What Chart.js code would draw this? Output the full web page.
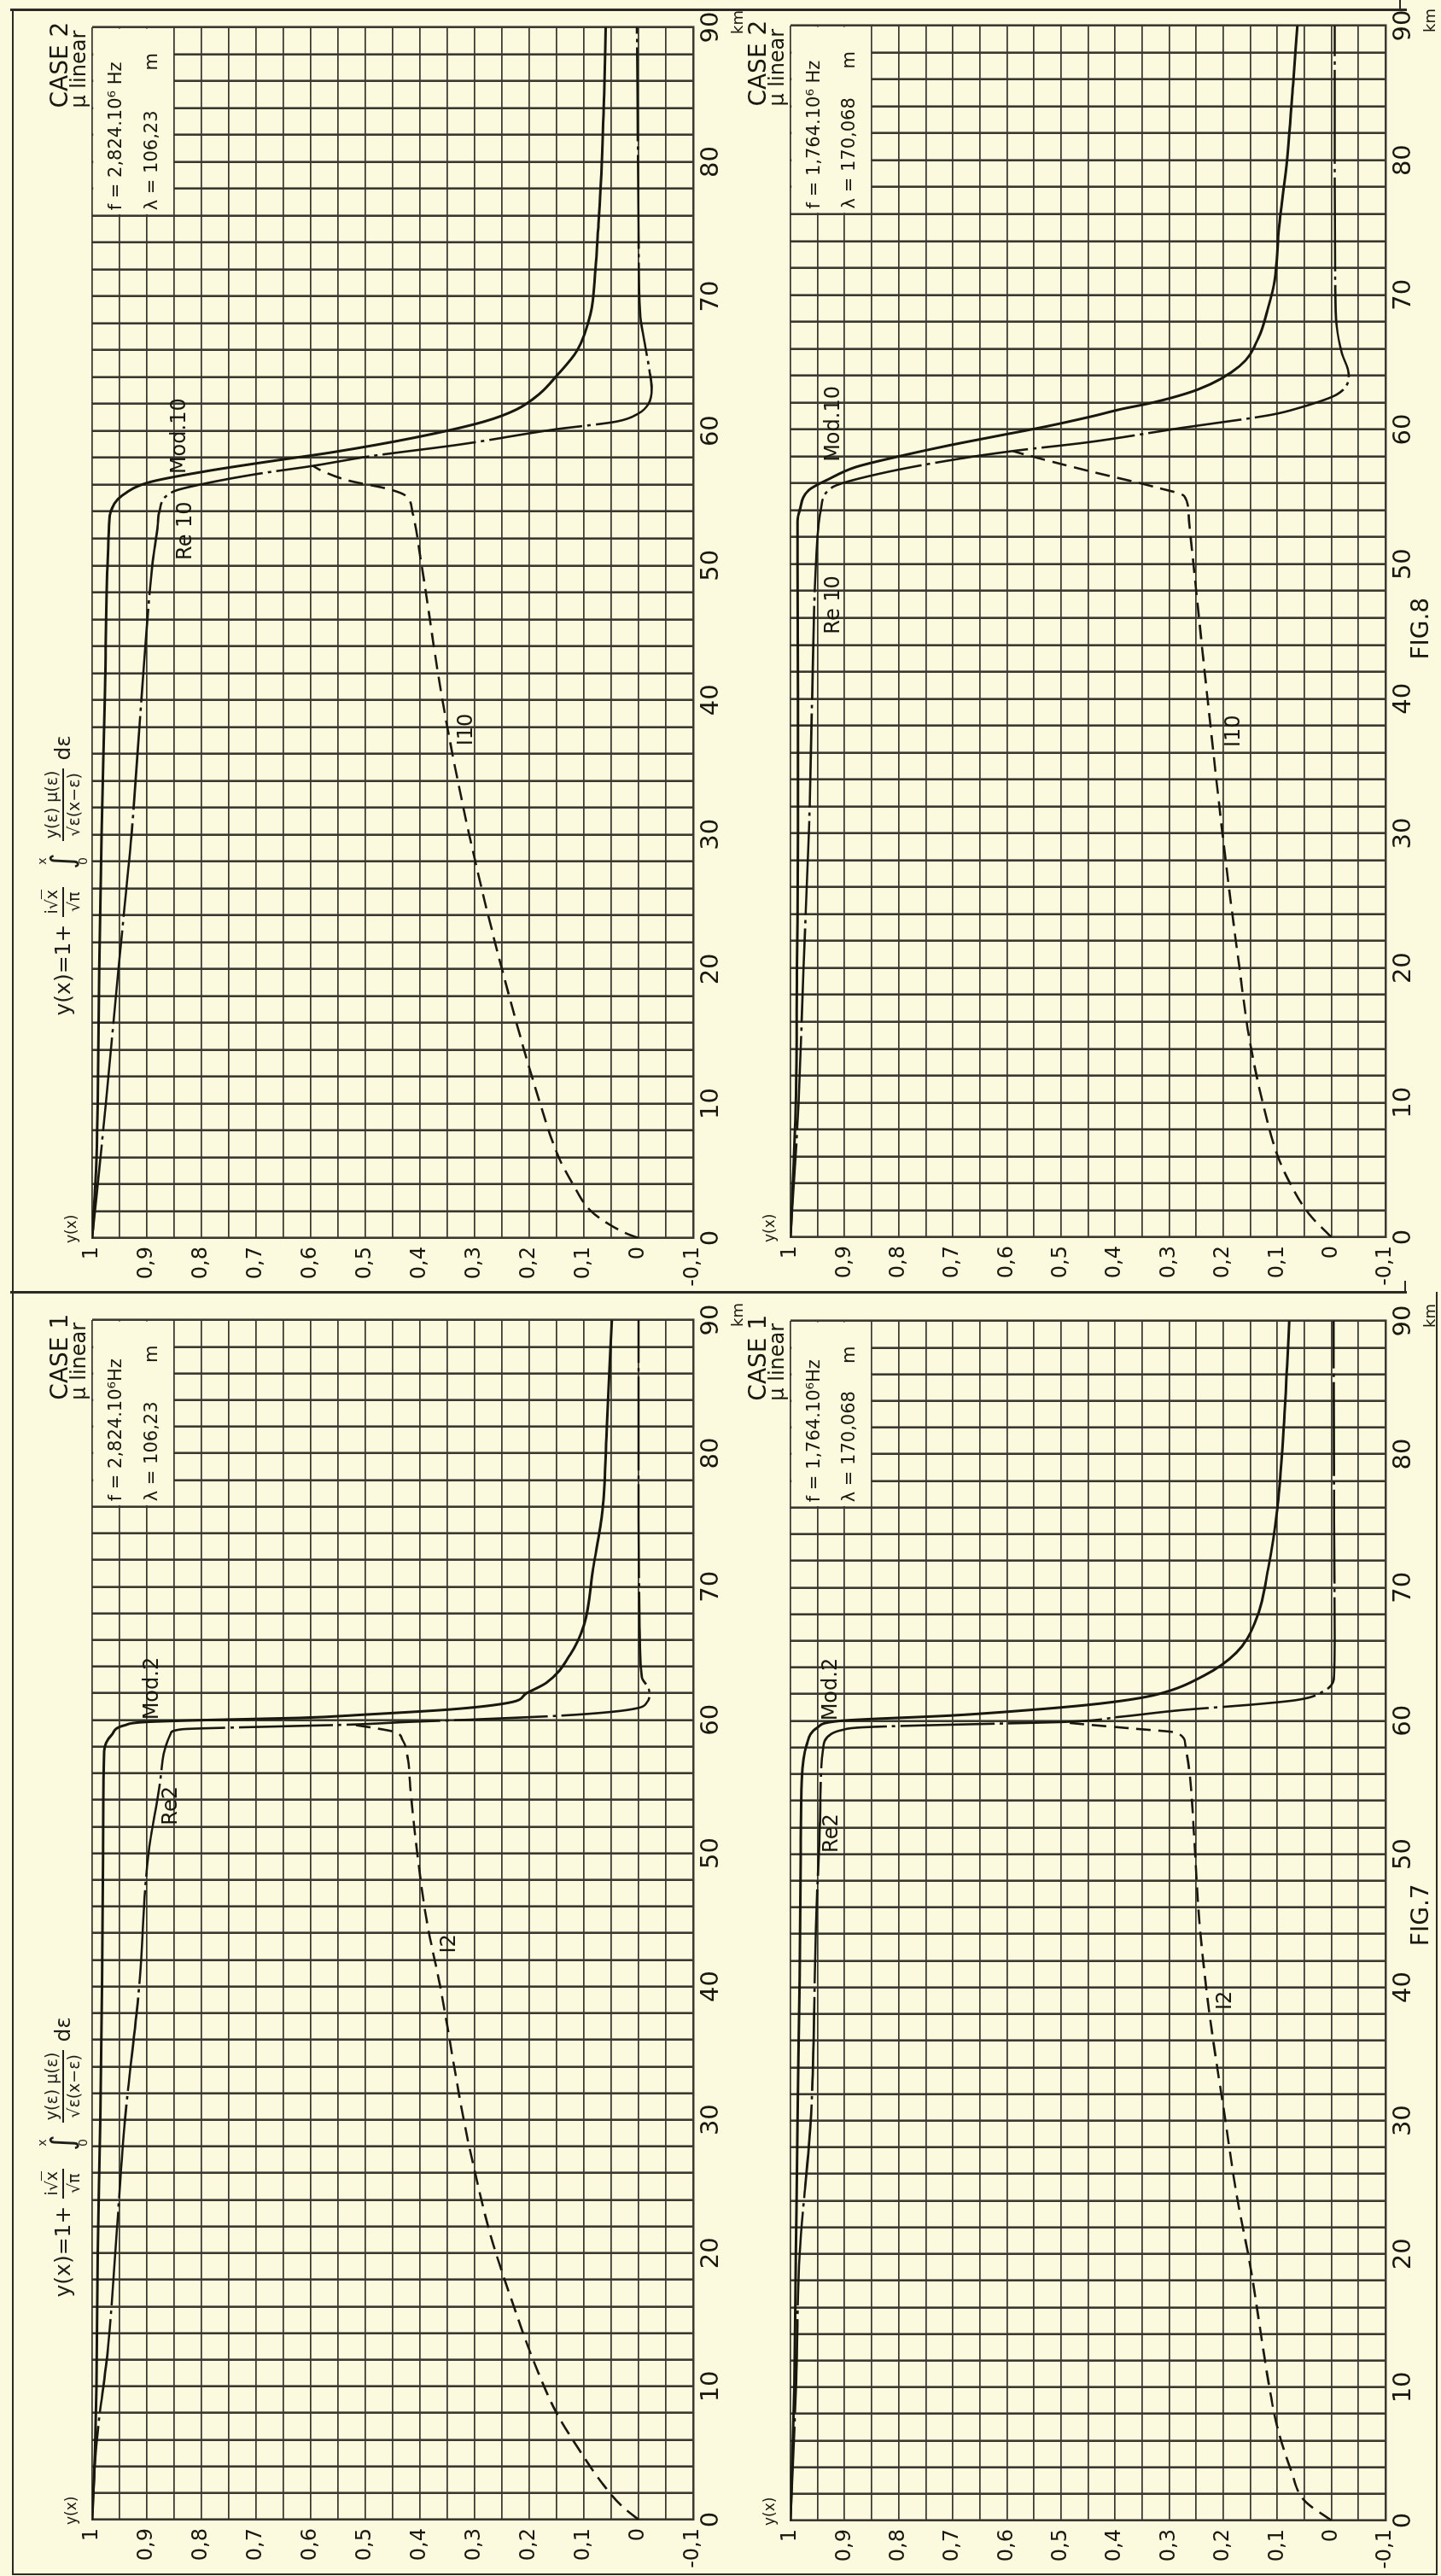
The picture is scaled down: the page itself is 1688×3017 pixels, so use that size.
<!DOCTYPE html>
<html lang="fr">
<head>
<meta charset="utf-8">
<title>y(x) — CASE 1 / CASE 2, FIG.7 – FIG.8</title>
<script src="https://cdn.jsdelivr.net/npm/chart.js@4.4.1/dist/chart.umd.min.js"></script>
<style>
  html, body { margin: 0; padding: 0; }
  body {
    width: 1688px; height: 3017px; overflow: hidden; position: relative;
    background: #fbf9de; color: #1e1e1a;
    font-family: "DejaVu Sans", "Liberation Sans", sans-serif;
  }
  /* the plates are laid out lying down, then the whole sheet is turned a quarter left */
  #page {
    position: absolute; left: 0; top: 0; width: 3017px; height: 1688px;
    transform-origin: 0 0; transform: translate(0px, 3017px) rotate(-90deg);
  }
  .rule { position: absolute; background: #2a2923; }
  .panel { position: absolute; }
  .formula { position: absolute; height: 54px; display: flex; align-items: center; white-space: nowrap; font-size: 25px; }
  .frac { display: inline-flex; flex-direction: column; align-items: center; margin: 0 9px; font-size: 19px; line-height: 1.2; }
  .frac > span:first-child { border-bottom: 2px solid #1e1e1a; padding: 0 3px 1px; }
  .int { display: inline-flex; flex-direction: column; align-items: center; margin: 0 5px 0 12px; font-size: 14px; line-height: 1; }
  .int b { font-weight: normal; font-size: 36px; line-height: 0.95; }
  .ov { text-decoration: overline; }
</style>
</head>
<body>
<div id="page"></div>
<script>
/* ─────────────────────────────────────────
   FIG.8 — CASE 2, f = 2,824.10⁶ Hz
───────────────────────────────────────── */
const KM_MOD_8A = [0, 5, 10, 20, 30, 40, 50, 53, 54, 55.2, 56.2, 57, 57.8, 58.4, 59.5, 60.7, 61.6, 62.8, 64, 66, 68.7, 72, 75, 80, 85, 90];
const MOD_8A    = [1, 0.993, 0.99, 0.987, 0.983, 0.977, 0.972, 0.969, 0.966, 0.945, 0.894, 0.792, 0.664, 0.562, 0.41, 0.282, 0.223, 0.18, 0.152, 0.112, 0.088, 0.079, 0.074, 0.067, 0.063, 0.06];
const KM_RE_8A  = [0, 10, 20, 30, 40, 50, 53, 54, 55.5, 56.1, 56.8, 57.4, 58.1, 59, 60.1, 60.7, 61.3, 62, 63.2, 64.5, 66.6, 68.7, 75, 90];
const RE_8A     = [1, 0.975, 0.952, 0.928, 0.91, 0.89, 0.88, 0.877, 0.851, 0.792, 0.698, 0.596, 0.494, 0.325, 0.155, 0.04, 0, -0.018, -0.024, -0.02, -0.011, -0.003, 0, 0.003];
const KM_IM_8A  = [0, 0.3, 1, 2, 4, 6, 10, 20, 30, 40, 50, 54, 55.2, 55.7, 56.3, 57, 57.4];
const IM_8A     = [0, 0.02, 0.053, 0.087, 0.12, 0.146, 0.18, 0.25, 0.31, 0.359, 0.397, 0.414, 0.427, 0.46, 0.53, 0.578, 0.596];

/* FIG.8 — CASE 2, f = 1,764.10⁶ Hz */
const KM_MOD_8B = [0, 10, 20, 30, 40, 50, 53.2, 54, 55.5, 56.3, 57.2, 58, 58.8, 59.5, 60.2, 61, 61.5, 62, 63, 64.7, 66.8, 68.9, 71, 75, 79.3, 85.6, 90];
const MOD_8B    = [1, 0.99, 0.988, 0.986, 0.986, 0.987, 0.987, 0.983, 0.966, 0.93, 0.88, 0.8, 0.709, 0.62, 0.53, 0.44, 0.39, 0.33, 0.245, 0.17, 0.135, 0.118, 0.105, 0.097, 0.084, 0.071, 0.063];
const KM_RE_8B  = [0, 10, 20, 30, 40, 50, 54, 55.7, 56.7, 57.8, 58.4, 59.05, 60.1, 61.1, 61.6, 62.6, 64.1, 65.7, 67.6, 71, 80, 90];
const RE_8B     = [1, 0.985, 0.976, 0.966, 0.96, 0.953, 0.944, 0.923, 0.837, 0.692, 0.589, 0.45, 0.28, 0.11, 0.06, -0.01, -0.032, -0.019, -0.01, -0.007, -0.006, -0.006];
const KM_IM_8B  = [0, 1.7, 3.9, 6.1, 10, 14.8, 20, 27.8, 40, 50, 53.7, 55.05, 55.7, 56.95, 58.2, 58.4];
const IM_8B     = [0, 0.041, 0.075, 0.1, 0.127, 0.152, 0.17, 0.195, 0.229, 0.255, 0.264, 0.272, 0.324, 0.452, 0.572, 0.589];

/* FIG.7 — CASE 1, f = 2,824.10⁶ Hz */
const KM_MOD_7A = [0, 5, 10, 20, 30, 40, 50, 57.65, 58.9, 59.6, 59.85, 60, 60.15, 60.4, 60.8, 61.3, 62, 62.8, 64.9, 67.1, 71.4, 75.7, 82.2, 90];
const MOD_7A    = [1, 0.995, 0.992, 0.99, 0.985, 0.982, 0.98, 0.978, 0.964, 0.94, 0.9, 0.78, 0.62, 0.5, 0.34, 0.236, 0.205, 0.168, 0.125, 0.1, 0.083, 0.066, 0.058, 0.049];
const KM_RE_7A  = [0, 5.8, 12.9, 21.6, 30, 40, 50, 55, 57, 59, 59.3, 59.45, 59.65, 59.85, 60, 60.3, 60.6, 60.9, 61.3, 61.9, 62.4, 63.2, 67, 75, 90];
const RE_7A     = [1, 0.992, 0.971, 0.955, 0.94, 0.914, 0.897, 0.877, 0.871, 0.856, 0.835, 0.72, 0.525, 0.42, 0.32, 0.151, 0.05, 0, -0.015, -0.02, -0.018, -0.006, -0.002, 0, 0];
const KM_IM_7A  = [0, 1, 2.7, 5.2, 8, 12, 16.8, 21.2, 26.7, 30, 40, 45, 50, 55, 57, 58.5, 59.1, 59.4, 59.65];
const IM_7A     = [0, 0.03, 0.066, 0.108, 0.15, 0.193, 0.235, 0.27, 0.303, 0.32, 0.363, 0.388, 0.405, 0.418, 0.422, 0.432, 0.447, 0.485, 0.525];

/* FIG.7 — CASE 1, f = 1,764.10⁶ Hz */
const KM_MOD_7B = [0, 10, 20, 30, 40.7, 50, 55.6, 58.2, 59.5, 60, 60.4, 60.8, 61.2, 61.6, 62, 63.4, 65.1, 67.3, 71.6, 75.9, 80.2, 86.6, 90];
const MOD_7B    = [1, 0.993, 0.99, 0.987, 0.983, 0.981, 0.979, 0.97, 0.95, 0.906, 0.7, 0.56, 0.448, 0.37, 0.32, 0.235, 0.176, 0.142, 0.116, 0.1, 0.091, 0.082, 0.078];
const KM_RE_7B  = [0, 10, 20, 30.4, 44.5, 53.5, 57.8, 59, 59.3, 59.5, 59.65, 59.8, 59.9, 60.3, 60.8, 61.2, 61.55, 62.2, 63.4, 66, 75, 90];
const RE_7B     = [1, 0.99, 0.983, 0.962, 0.953, 0.945, 0.94, 0.925, 0.905, 0.87, 0.76, 0.6, 0.5, 0.39, 0.277, 0.15, 0.065, 0.015, -0.005, -0.006, -0.005, -0.004];
const KM_IM_7B  = [0, 1.5, 3.7, 7, 10.3, 14.7, 19.1, 24.6, 30, 38.5, 44.9, 50, 55.6, 58.2, 59.1, 59.4, 59.7, 59.9];
const IM_7B     = [0, 0.05, 0.074, 0.1, 0.116, 0.133, 0.15, 0.176, 0.196, 0.227, 0.244, 0.252, 0.261, 0.27, 0.286, 0.363, 0.448, 0.5];

/* ─────────────────────────────────────────
   AXES: graph paper every 2 km and every 0,05
───────────────────────────────────────── */
const KM_MIN = 0, KM_MAX = 90, KM_STEP = 2, KM_LABEL_EVERY = 10;
const Y_MIN = -0.1, Y_MAX = 1, Y_STEP = 0.05;
const KM_TICKS = [];
for (let k = KM_MIN; k <= KM_MAX; k += KM_STEP) KM_TICKS.push(k);
const Y_TICKS = [];
for (let i = 0; i <= Math.round((Y_MAX - Y_MIN) / Y_STEP); i++) Y_TICKS.push(Math.round((Y_MIN + i * Y_STEP) * 100) / 100);

// empty corner of the paper where f and λ are written
const BOX_KM = [76, 90];
const BOX_VAL = [0.85, 1];

const INK = "#18180f";
const GRID = "#3a382f";
const PAPER = "#fbf9de";
const FONT = '"DejaVu Sans", sans-serif';
const PAD = { l: 72, t: 72, r: 50, b: 72 };
const FORMULA_KM = 32.3;

const PANELS = [
  { area: { left: 1567, right: 2985, top: 108, bottom: 812 },
    caseName: "CASE 2", freq: "f = 2,824.10⁶ Hz", wave: "λ = 106,23", formula: true, fig: null,
    mod: [KM_MOD_8A, MOD_8A], re: [KM_RE_8A, RE_8A], im: [KM_IM_8A, IM_8A],
    names: [["Mod.10", 56.8, 0.84], ["Re 10", 50.4, 0.828], ["I10", 36.6, 0.315]] },
  { area: { left: 1568, right: 2987, top: 926, bottom: 1623 },
    caseName: "CASE 2", freq: "f = 1,764.10⁶ Hz", wave: "λ = 170,068", formula: false, fig: ["FIG.8", 42.9],
    mod: [KM_MOD_8B, MOD_8B], re: [KM_RE_8B, RE_8B], im: [KM_IM_8B, IM_8B],
    names: [["Mod.10", 57.6, 0.92], ["Re 10", 44.8, 0.92], ["I10", 36.4, 0.18]] },
  { area: { left: 66, right: 1471, top: 108, bottom: 812 },
    caseName: "CASE 1", freq: "f = 2,824.10⁶Hz", wave: "λ = 106,23", formula: true, fig: null,
    mod: [KM_MOD_7A, MOD_7A], re: [KM_RE_7A, RE_7A], im: [KM_IM_7A, IM_7A],
    names: [["Mod.2", 60.0, 0.89], ["Re2", 52.1, 0.855], ["I2", 42.5, 0.345]] },
  { area: { left: 65, right: 1470, top: 926, bottom: 1623 },
    caseName: "CASE 1", freq: "f = 1,764.10⁶Hz", wave: "λ = 170,068", formula: false, fig: ["FIG.7", 43.1],
    mod: [KM_MOD_7B, MOD_7B], re: [KM_RE_7B, RE_7B], im: [KM_IM_7B, IM_7B],
    names: [["Mod.2", 60.0, 0.925], ["Re2", 50.1, 0.923], ["I2", 38.3, 0.195]] },
];

// sheet border and the line between the two rows (sideways coordinates)
const RULES = [
  [2, 14, 3004, 2],
  [3004, 12, 3, 1636],
  [1502, 12, 3, 1636],
  [1, 14, 2, 1670],
  [2, 1682, 1502, 2],
  [1503, 1645, 14, 2],
  [3006, 1639, 11, 2],
];

const FORMULA =
  '<span>y(x)=1+</span>' +
  '<span class="frac"><span>i√<span class="ov">x</span></span><span>√<span class="ov">π</span></span></span>' +
  '<span class="int"><span>x</span><b>∫</b><span>0</span></span>' +
  '<span class="frac"><span>y(ε) μ(ε)</span><span>√<span class="ov">ε(x−ε)</span></span></span>' +
  '<span>dε</span>';

/* ─────────────────────────────────────────
   HELPERS
───────────────────────────────────────── */
const page = document.getElementById("page");

function toPoints([km, vals]) {
  return km.map((k, i) => ({ x: k, y: vals[i] }));
}

function valueLabel(v) {
  const t = Math.round(v * 20);
  if (t % 2 !== 0) return "";
  const n = t / 20;
  if (n === 0) return "0";
  if (n === 1) return "1";
  return n.toFixed(1).replace(".", ",");
}

function notesFor(p) {
  const notes = [
    { text: "y(x)", km: 0, dx: -6, top: 19, size: 17 },
    { text: "km", km: 90, dx: -8, dy: 58, size: 18 },
    { text: p.caseName, km: 84, val: 1.045, size: 28 },
    { text: "μ linear", km: 84, val: 1.013, size: 24 },
    { text: p.freq, km: 76.4, val: 0.947, size: 21 },
    { text: p.wave, km: 76.4, val: 0.882, size: 21 },
    { text: "m", km: 86.8, val: 0.882, size: 21 },
  ];
  p.names.forEach(([text, km, val]) => notes.push({ text, km, val, mid: true, size: 24 }));
  if (p.fig) notes.push({ text: p.fig[0], km: p.fig[1], dy: 50, size: 28 });
  return notes;
}

/* plain paper in the f / λ corner, then the lettering */
const plateDecor = {
  id: "plateDecor",
  beforeDatasetsDraw(chart) {
    const { x, y } = chart.scales;
    const ctx = chart.ctx;
    const l = x.getPixelForValue(BOX_KM[0]), r = x.getPixelForValue(BOX_KM[1]);
    const t = y.getPixelForValue(BOX_VAL[1]), b = y.getPixelForValue(BOX_VAL[0]);
    ctx.save();
    ctx.fillStyle = PAPER;
    ctx.fillRect(l + 1.6, t + 1.2, r - l - 3.2, b - t - 2.2);
    ctx.restore();
  },
  afterDraw(chart, args, opts) {
    const { x, y } = chart.scales;
    const ctx = chart.ctx;
    const area = chart.chartArea;
    ctx.save();
    ctx.fillStyle = INK;
    ctx.textAlign = "left";
    for (const n of opts.notes) {
      ctx.font = `${n.size}px ${FONT}`;
      ctx.textBaseline = n.mid ? "middle" : "alphabetic";
      const px = x.getPixelForValue(n.km) + (n.dx || 0);
      let py;
      if (n.dy !== undefined) py = area.bottom + n.dy;
      else if (n.top !== undefined) py = area.top - n.top;
      else py = y.getPixelForValue(n.val);
      ctx.fillText(n.text, px, py);
    }
    ctx.restore();
  }
};

/* ─────────────────────────────────────────
   BUILD
───────────────────────────────────────── */
RULES.forEach(([l, t, w, h]) => {
  const d = document.createElement("div");
  d.className = "rule";
  d.style.cssText = `left:${l}px;top:${t}px;width:${w}px;height:${h}px`;
  page.appendChild(d);
});

function buildPanel(p) {
  const a = p.area;
  const box = document.createElement("div");
  box.className = "panel";
  box.style.left = (a.left - PAD.l) + "px";
  box.style.top = (a.top - PAD.t) + "px";
  box.style.width = (a.right - a.left + PAD.l + PAD.r) + "px";
  box.style.height = (a.bottom - a.top + PAD.t + PAD.b) + "px";
  const cv = document.createElement("canvas");
  box.appendChild(cv);
  page.appendChild(box);

  const line = { showLine: true, pointRadius: 0, fill: false, borderColor: INK, cubicInterpolationMode: "monotone" };

  const chart = new Chart(cv, {
    type: "scatter",
    data: {
      datasets: [
        { ...line, label: "Mod", data: toPoints(p.mod), borderWidth: 3 },
        { ...line, label: "Re", data: toPoints(p.re), borderWidth: 2.6, borderDash: [110, 6, 4, 6] },
        { ...line, label: "Im", data: toPoints(p.im), borderWidth: 2.6, borderDash: [17, 9] },
      ]
    },
    options: {
      responsive: true,
      maintainAspectRatio: false,
      animation: false,
      devicePixelRatio: 1,
      layout: { padding: { left: 0, top: PAD.t, right: PAD.r, bottom: 0 } },
      plugins: {
        legend: { display: false },
        tooltip: { enabled: false },
        plateDecor: { notes: notesFor(p) }
      },
      scales: {
        x: {
          type: "linear", min: KM_MIN, max: KM_MAX,
          afterFit: s => { s.height = PAD.b; },
          afterBuildTicks: s => { s.ticks = KM_TICKS.map(v => ({ value: v })); },
          ticks: {
            autoSkip: false, maxRotation: 0, minRotation: 0, padding: 4,
            color: INK, font: { family: FONT, size: 29 },
            callback: v => (v % KM_LABEL_EVERY === 0 ? String(v) : "")
          },
          grid: { color: GRID, lineWidth: 2.6, drawTicks: false },
          border: { color: GRID, width: 2.6 }
        },
        y: {
          type: "linear", min: Y_MIN, max: Y_MAX,
          afterFit: s => { s.width = PAD.l; },
          afterBuildTicks: s => { s.ticks = Y_TICKS.map(v => ({ value: v })); },
          ticks: {
            autoSkip: false, padding: 10,
            color: INK, font: { family: FONT, size: 24 },
            callback: valueLabel
          },
          grid: { color: GRID, lineWidth: 1.8, drawTicks: false },
          border: { color: GRID, width: 2 }
        }
      }
    },
    plugins: [plateDecor]
  });

  if (p.formula) {
    const f = document.createElement("div");
    f.className = "formula";
    f.innerHTML = FORMULA;
    f.style.left = (a.left - PAD.l + chart.scales.x.getPixelForValue(FORMULA_KM)) + "px";
    f.style.top = (a.top - 62) + "px";
    page.appendChild(f);
  }
}

PANELS.forEach(buildPanel);
</script>
</body>
</html>
